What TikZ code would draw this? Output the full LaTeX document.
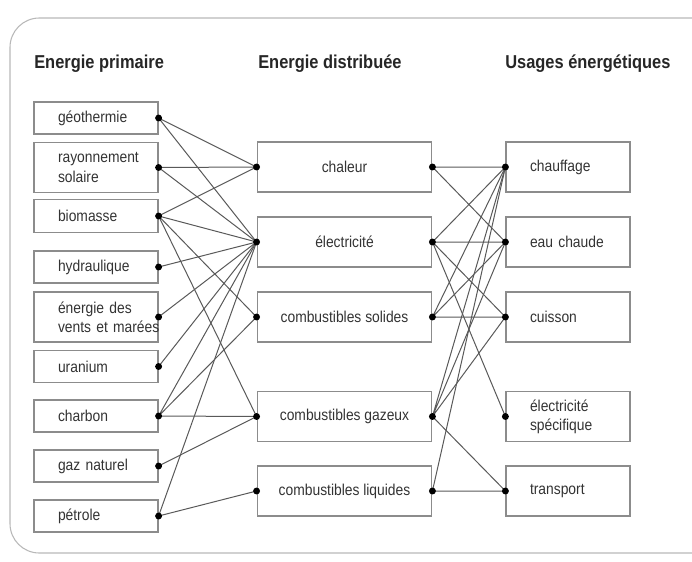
\documentclass[tikz,border=0pt]{standalone}
\usepackage{fontspec}
\setmainfont{Liberation Sans}[FakeStretch=0.88]
\definecolor{boxgray}{gray}{0.55}
\definecolor{linegray}{gray}{0.35}
\definecolor{txtgray}{gray}{0.2}
\definecolor{framegray}{gray}{0.72}
\begin{document}
\begin{tikzpicture}[x=0.75pt,y=-0.75pt,
    head/.style = {anchor=west, inner sep=0pt, text=black!85,
                   font=\fontsize{14}{16}\selectfont\bfseries},
    srcbox/.style = {draw=boxgray, line width=0.9pt, text width=57pt,
                     inner xsep=18pt, inner ysep=0pt, align=left, text=txtgray,
                     font=\fontsize{11.8}{14.5}\selectfont},
    midbox/.style = {draw=boxgray, line width=0.9pt, minimum width=131pt,
                     minimum height=37.5pt, align=center, text=txtgray,
                     font=\fontsize{11.8}{14.5}\selectfont},
    usebox/.style = {draw=boxgray, line width=0.9pt, text width=57pt,
                     inner xsep=18pt, minimum height=37.5pt, align=left,
                     text=txtgray, font=\fontsize{11.8}{14}\selectfont},
    link/.style = {linegray, line width=0.75pt}]
                \clip (0,0) rectangle (692,561);
                \draw[framegray, line width=0.8pt, rounded corners=22pt]
                    (10,18) rectangle (730,553);

                % titres
                \node[head] (t1) at (34,64)  {Energie primaire};
                \node[head] (t2) at (258,64) {Energie distribuée};
                \node[head] (t3) at (505,64) {Usages énergétiques};

                % energie primaire
                \node[srcbox, minimum height=24pt] (geo) at (96,118)   {géothermie};
                \node[srcbox, minimum height=38pt] (ray) at (96,167.5) {rayonnement\\solaire};
                \node[srcbox, minimum height=25pt] (bio) at (96,216)   {biomasse};
                \node[srcbox, minimum height=24pt] (hyd) at (96,267)   {hydraulique};
                \node[srcbox, minimum height=37.5pt] (ven) at (96,317) {énergie des\\\mbox{vents et marées}};
                \node[srcbox, minimum height=24pt] (ura) at (96,366.5) {uranium};
                \node[srcbox, minimum height=24pt] (chb) at (96,416)   {charbon};
                \node[srcbox, minimum height=24pt] (gna) at (96,466)   {gaz naturel};
                \node[srcbox, minimum height=24pt] (pet) at (96,516)   {pétrole};

                % energie distribuee
                \node[midbox] (chal) at (344.5,167)   {chaleur};
                \node[midbox] (elec) at (344.5,242)   {électricité};
                \node[midbox] (sol)  at (344.5,317)   {combustibles solides};
                \node[midbox] (gaz)  at (344.5,416.5) {combustibles gazeux};
                \node[midbox] (liq)  at (344.5,491)   {combustibles liquides};

                % usages
                \node[usebox] (chauf) at (568,167)   {chauffage};
                \node[usebox] (eau)   at (568,242)   {eau chaude};
                \node[usebox] (cuis)  at (568,317)   {cuisson};
                \node[usebox] (spec)  at (568,416.5) {électricité\\spécifique};
                \node[usebox] (trans) at (568,491)   {transport};

                % primaire -> distribuee
                \draw[link] (geo.east) -- (chal.west) (geo.east) -- (elec.west);
                \draw[link] (ray.east) -- (chal.west) (ray.east) -- (elec.west);
                \draw[link] (bio.east) -- (chal.west) (bio.east) -- (elec.west)
                            (bio.east) -- (sol.west)  (bio.east) -- (gaz.west);
                \draw[link] (hyd.east) -- (elec.west);
                \draw[link] (ven.east) -- (elec.west);
                \draw[link] (ura.east) -- (elec.west);
                \draw[link] (chb.east) -- (elec.west) (chb.east) -- (sol.west)
                            (chb.east) -- (gaz.west);
                \draw[link] (gna.east) -- (gaz.west);
                \draw[link] (pet.east) -- (elec.west) (pet.east) -- (liq.west);

                % distribuee -> usages
                \draw[link] (chal.east) -- (chauf.west) (chal.east) -- (eau.west);
                \draw[link] (elec.east) -- (chauf.west) (elec.east) -- (eau.west)
                            (elec.east) -- (cuis.west)  (elec.east) -- (spec.west);
                \draw[link] (sol.east) -- (chauf.west) (sol.east) -- (eau.west)
                            (sol.east) -- (cuis.west);
                \draw[link] (gaz.east) -- (chauf.west) (gaz.east) -- (eau.west)
                            (gaz.east) -- (cuis.west)  (gaz.east) -- (trans.west);
                \draw[link] (liq.east) -- (chauf.west) (liq.east) -- (trans.west);

                % points
                \foreach \n in {geo,ray,bio,hyd,ven,ura,chb,gna,pet}
                    \fill (\n.east) circle (2.6pt);
                \foreach \n in {chal,elec,sol,gaz,liq}
                    \fill (\n.west) circle (2.6pt) (\n.east) circle (2.6pt);
                \foreach \n in {chauf,eau,cuis,spec,trans}
                    \fill (\n.west) circle (2.6pt);
            \end{tikzpicture}
\end{document}
